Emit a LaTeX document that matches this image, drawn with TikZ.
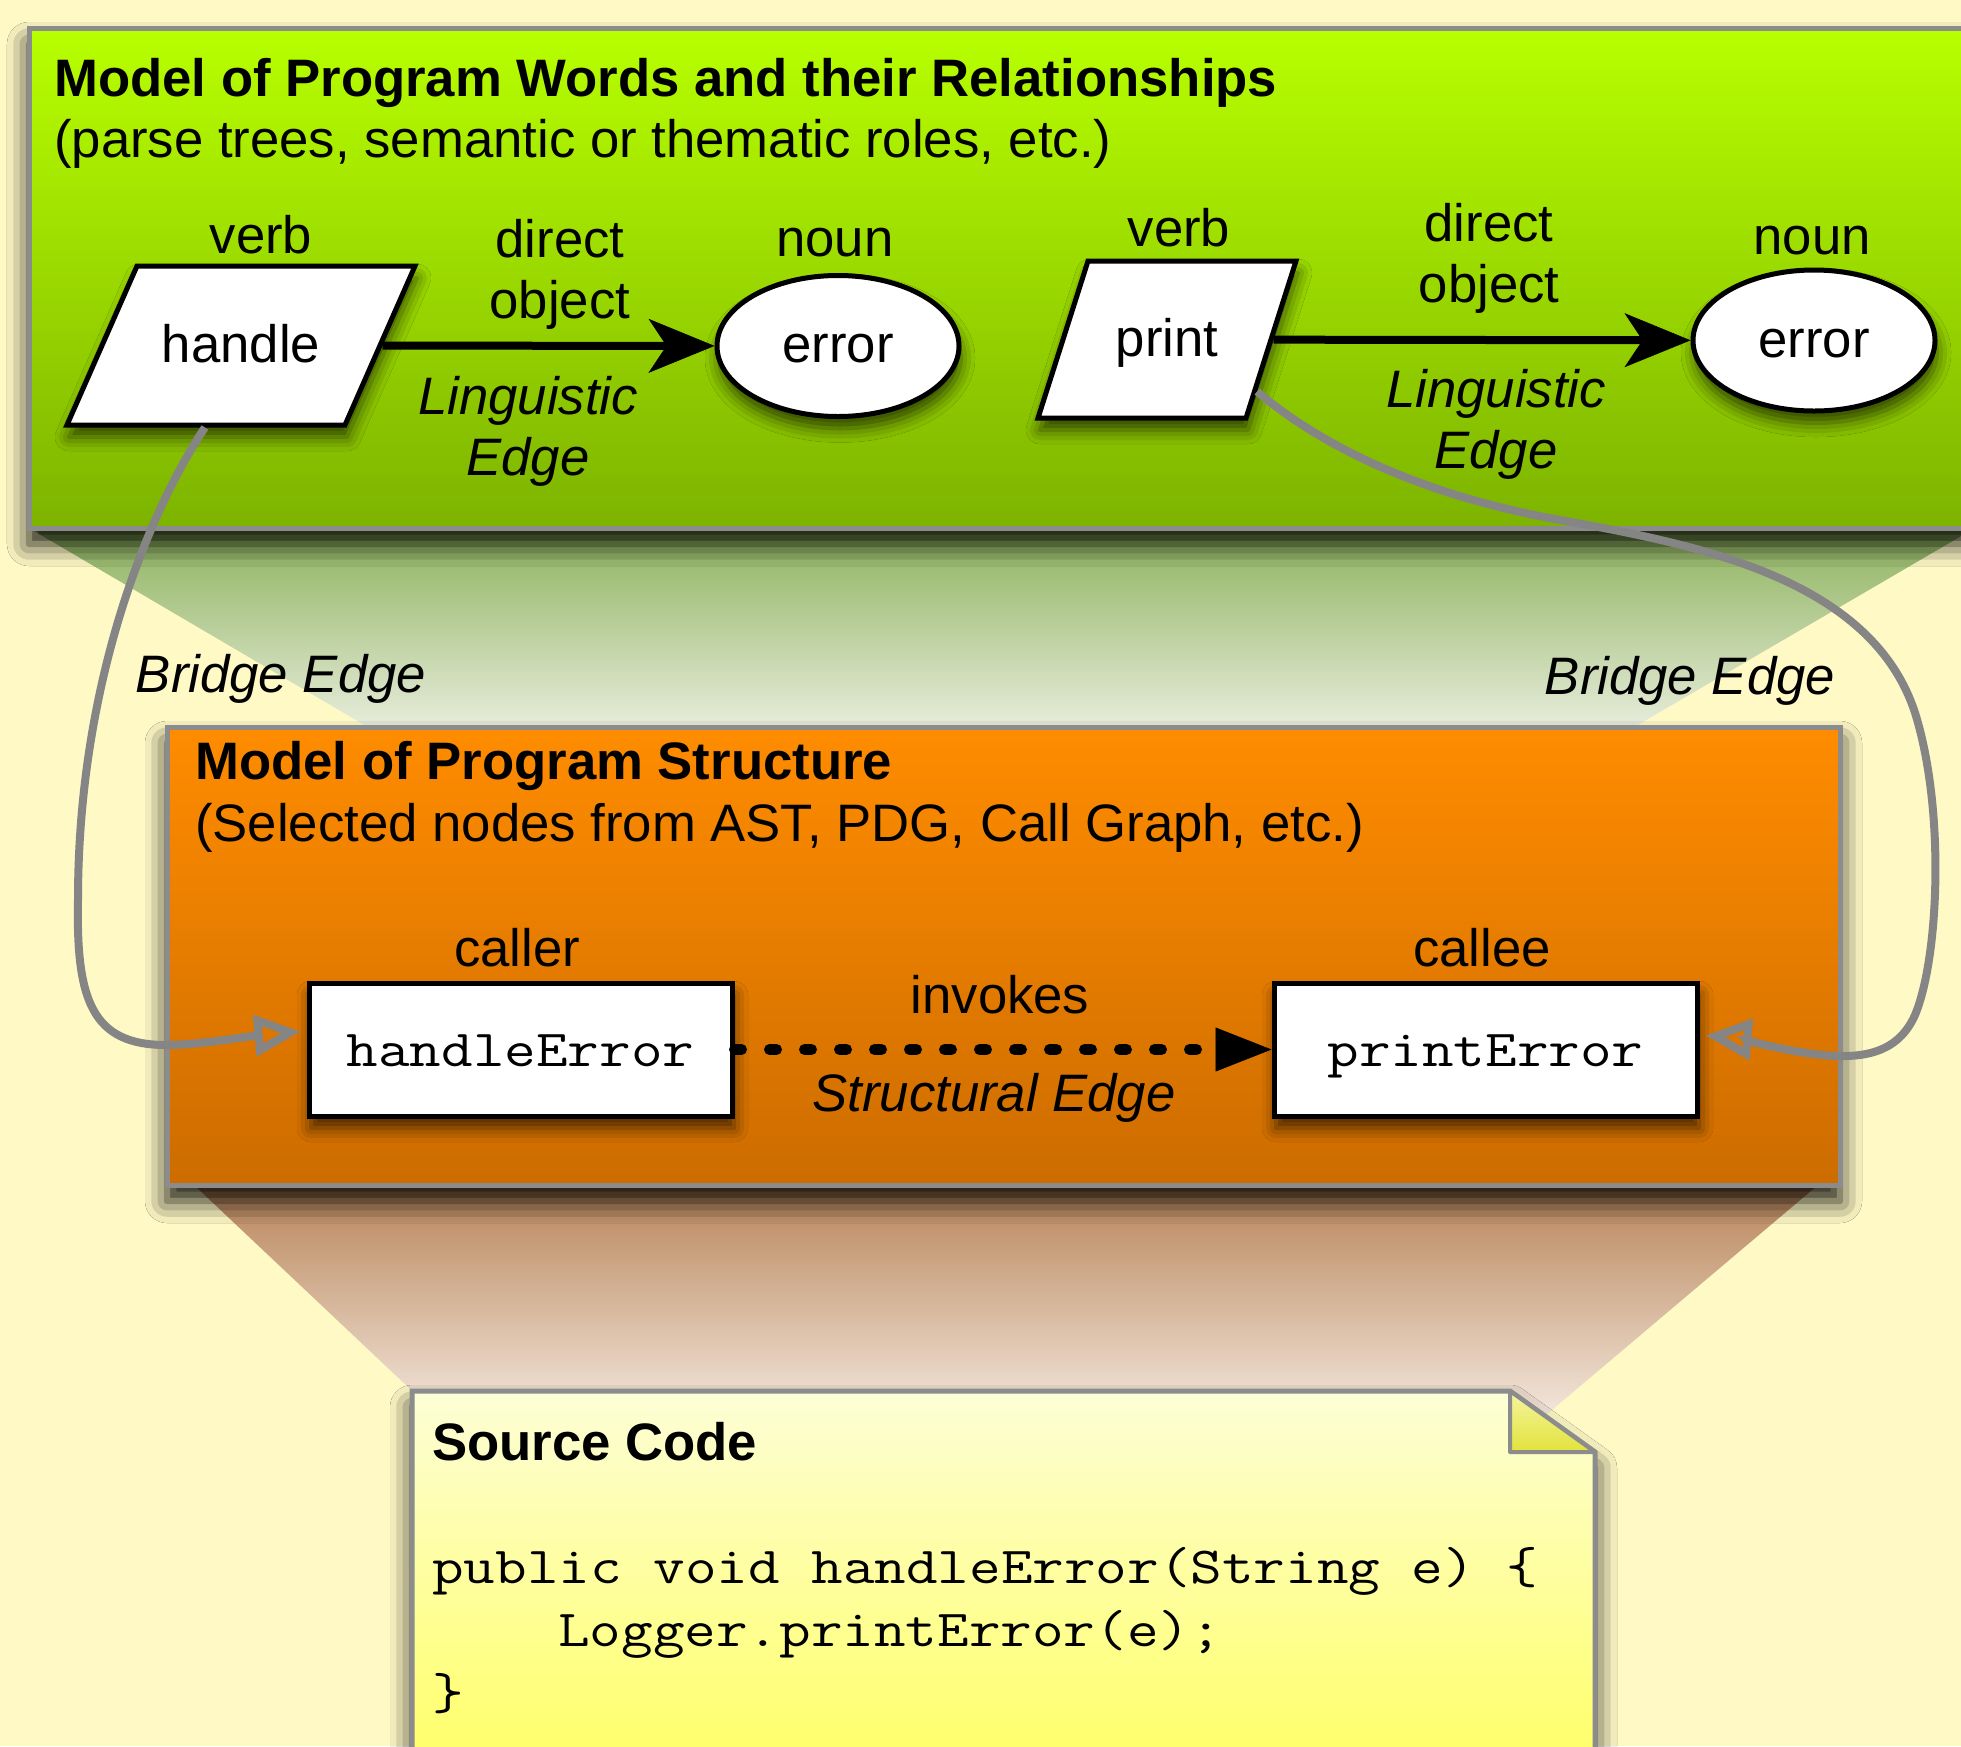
\documentclass[tikz,border=0pt]{standalone}
\usepackage{fontspec}
\setmainfont{Liberation Sans}
\usepackage{graphicx}
\usetikzlibrary{shapes.geometric,arrows.meta,shadows.blur,calc}
\definecolor{bgyellow}{HTML}{FFF9C6}
\definecolor{gtop}{HTML}{B8FF00}
\definecolor{gbot}{HTML}{7DB300}
\definecolor{otop}{HTML}{FF8C00}
\definecolor{obot}{HTML}{CC6C00}
\definecolor{srctop}{HTML}{FDFED6}
\definecolor{srcbot}{HTML}{FFFF60}
\definecolor{foldtop}{HTML}{F5F5A0}
\definecolor{foldbot}{HTML}{E2E23C}
\definecolor{projgA}{HTML}{8CB25C}
\definecolor{projgB}{HTML}{C8DAAC}
\definecolor{projgC}{HTML}{EDF0E3}
\definecolor{projoA}{HTML}{B88458}
\definecolor{projoB}{HTML}{EAC7AA}
\definecolor{projoC}{HTML}{F4E8DE}
\definecolor{boxgray}{HTML}{8C8C8C}
\definecolor{bridgegray}{HTML}{858585}
\newcommand{\mycode}[1]{\scalebox{1.18}[1]{\ttfamily\fontsize{52}{63}\selectfont #1}}
\tikzset{
  basefont/.style={font=\fontsize{52.7}{62}\selectfont, inner sep=0pt},
  lbl/.style={basefont, anchor=base},
  ilbl/.style={lbl, font=\fontsize{52.7}{62}\selectfont\itshape},
  ttl/.style={basefont, anchor=base west, font=\fontsize{52.7}{62}\selectfont\bfseries},
  sub/.style={basefont, anchor=base west},
  nshadow/.style={blur shadow={shadow xshift=2pt, shadow yshift=-12pt, shadow blur radius=14pt, shadow opacity=65}},
  bshadow/.style={blur shadow={shadow xshift=0pt, shadow yshift=-16pt, shadow blur radius=22pt, shadow opacity=90}},
  word/.style={draw=black, line width=5pt, fill=white, nshadow, basefont, text height=33pt, text depth=0pt},
  verbshape/.style={word, trapezium, align=center, inner xsep=24pt},
  nounshape/.style={word, ellipse, minimum width=242pt, minimum height=141pt},
  codebox/.style={word, rectangle, minimum width=423pt, minimum height=133pt},
  ling/.style={draw=black, opacity=1, line width=8pt, -{Stealth[length=66pt,width=54pt,inset=18pt,line width=0.5pt,fill=black]}},
  structedge/.style={draw=black, opacity=1, line width=11pt, dash pattern=on 7pt off 28pt, line cap=round, -{Triangle[length=56pt,width=44pt,line width=0.5pt,fill=black]}},
  bridge/.style={draw=bridgegray, opacity=1, line width=8pt, -{Triangle[open,length=46pt,width=40pt]}},
  panel/.style={draw=boxgray, line width=5pt},
}
\begin{document}
\begin{tikzpicture}[x=1pt,y=-1pt]
\useasboundingbox (0,0) rectangle (1961,1746);
\clip (0,0) rectangle (1961,1746);
\fill[bgyellow] (0,0) rectangle (1961,1746);

% projections
\shade[top color=projgA, middle color=projgB, bottom color=projgC]
  (29,528) -- (1975,528) -- (1612,740) -- (390,740) -- cycle;
\shade[top color=projoA, middle color=projoB, bottom color=projoC]
  (194,1185) -- (1818,1185) -- (1540,1420) -- (443,1420) -- cycle;

% panels
\path[panel, bshadow, top color=gtop, bottom color=gbot] (29,28) rectangle (2000,528);
\path[panel, bshadow, top color=otop, bottom color=obot] (167,727) rectangle (1840,1185);
\path[panel, bshadow, top color=srctop, bottom color=srcbot]
  (412,1391) -- (1510,1391) -- (1595,1452) -- (1595,1790) -- (412,1790) -- cycle;
\path[draw=boxgray, line width=4pt, line join=round, top color=foldtop, bottom color=foldbot]
  (1510,1391) -- (1510,1452) -- (1595,1452) -- cycle;

% titles
\node[ttl] (t1) at (54,96) {Model of Program Words and their Relationships};
\node[sub] (s1) at (54,157) {(parse trees, semantic or thematic roles, etc.)};
\node[ttl] (t2) at (195,779) {Model of Program Structure};
\node[sub] (s2) at (195,841) {(Selected nodes from AST, PDG, Call Graph, etc.)};
\node[ttl] (t3) at (432,1460) {Source Code};

% word nodes
\node[verbshape, text width=160pt, inner ysep=63pt, trapezium left angle=66.24, trapezium right angle=113.76] (handle) at (241,345.5) {handle};
\node[nounshape] (err1) at (838,346) {error};
\node[verbshape, text width=110pt, inner ysep=62pt, trapezium left angle=72.34, trapezium right angle=107.66] (print) at (1167,339.5) {print};
\node[nounshape] (err2) at (1814,340.5) {error};

% structure nodes
\node[codebox] (hE) at (520.5,1049.5) {\mycode{handleError}};
\node[codebox] (pE) at (1485.5,1049.5) {\mycode{printError}};

% labels
\node[lbl] (v1) at (261,253) {verb};
\node[lbl] (d1) at (560,257) {direct};
\node[lbl] (o1) at (560,318) {object};
\node[lbl] (n1) at (835,256) {noun};
\node[ilbl] (li1) at (528,414) {Linguistic};
\node[ilbl] (e1) at (528,475) {Edge};
\node[lbl] (v2) at (1179,246) {verb};
\node[lbl] (d2) at (1489,241) {direct};
\node[lbl] (o2) at (1489,302) {object};
\node[lbl] (n2) at (1812,254) {noun};
\node[ilbl] (li2) at (1496,407) {Linguistic};
\node[ilbl] (e2) at (1496,468) {Edge};
\node[lbl] (cr) at (517,966) {caller};
\node[lbl] (ce) at (1482,966) {callee};
\node[lbl] (inv) at (1000,1013) {invokes};
\node[ilbl] (se) at (994,1111) {Structural Edge};
\node[ilbl] (be1) at (281,692) {Bridge Edge};
\node[ilbl] (be2) at (1690,694) {Bridge Edge};

% code
\node[sub] (c1) at (432,1583) {\mycode{public void handleError(String e) \{}};
\node[sub] (c2) at (558,1646) {\mycode{Logger.printError(e);}};
\node[sub] (c3) at (432,1709) {\mycode{\}}};

% edges
\draw[ling] (handle) -- (err1);
\draw[ling] (print) -- (err2);
\draw[structedge] (hE) -- (pE);
\draw[bridge] (handle.bottom side) .. controls (150,510) and (78,680) .. (78,900)
  .. controls (76,1000) and (92,1045) .. (166,1045)
  .. controls (200,1045) and (250,1036) .. ($(hE.west)+(-6,-18)$);
\draw[bridge] (print.-30) .. controls (1320,445) and (1420,495) .. (1560,520)
  .. controls (1700,545) and (1880,580) .. (1918,723)
  .. controls (1945,820) and (1938,960) .. (1915,1015)
  .. controls (1895,1060) and (1850,1060) .. (1800,1052)
  .. controls (1770,1047) and (1735,1038) .. ($(pE.east)+(6,-14)$);
\end{tikzpicture}
\end{document}
